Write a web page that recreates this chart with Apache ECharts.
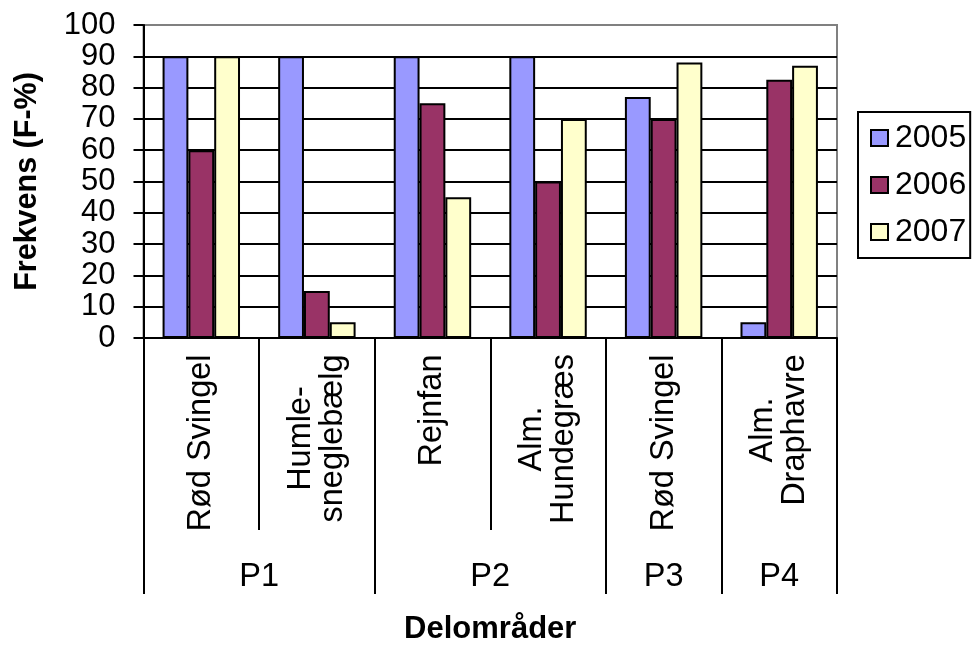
<!DOCTYPE html>
<html>
<head>
<meta charset="utf-8">
<script src="https://cdn.jsdelivr.net/npm/echarts@6/dist/echarts.min.js"></script>
<style>
  html, body { margin: 0; padding: 0; background: #fff; }
  #chart { width: 976px; height: 646px; }
</style>
</head>
<body>
<div id="chart"></div>
<script>
// Species per sub-area (two-level x axis)
const categories = ['Rød Svingel', 'Humle-\nsneglebælg', 'Rejnfan', 'Alm.\nHundegræs', 'Rød Svingel', 'Alm.\nDraphavre'];
const groups = ['P1', 'P2', 'P3', 'P4'];
const groupSizes = [2, 2, 1, 1];

// Frequency (F-%) per year
const years = ['2005', '2006', '2007'];
const values2005 = [90, 90, 90, 90, 77, 5];
const values2006 = [60, 15, 75, 50, 70, 82.5];
const values2007 = [90, 5, 45, 70, 88, 87];

const FONT = '"Liberation Sans", Arial, sans-serif';
const catFontSize = 32.5;
const LINE = 2;

// Group boundaries and centres on a 0..N scale that spans the category band
const boundaries = [0];
groupSizes.forEach(s => boundaries.push(boundaries[boundaries.length - 1] + s));
const centres = groups.map((g, i) => (boundaries[i] + boundaries[i + 1]) / 2);

// Multi-line species labels: lines centred inside a block as wide as the longest line
const ctx = document.createElement('canvas').getContext('2d');
ctx.font = catFontSize + 'px ' + FONT;
const rich = {};
categories.forEach((c, i) => {
  const w = Math.max(...c.split('\n').map(l => ctx.measureText(l).width));
  rich['c' + i] = { width: Math.ceil(w), align: 'center', fontSize: catFontSize, fontFamily: FONT, color: '#000', lineHeight: 32 };
});

const chart = echarts.init(document.getElementById('chart'), null, { renderer: 'canvas' });
const colors = ['#9999FF', '#993366', '#FFFFCC'];
const seriesValues = [values2005, values2006, values2007];

chart.setOption({
  animation: false,
  backgroundColor: '#fff',
  grid: {
    left: 143.5, right: 139, top: 25, bottom: 306,
    show: true, borderColor: '#808080', borderWidth: LINE, backgroundColor: 'transparent'
  },
  legend: {
    orient: 'vertical',
    left: 858, top: 112,
    width: 116,
    padding: [10, 4, 10, 12],
    borderColor: '#000', borderWidth: LINE,
    itemWidth: 17, itemHeight: 16, itemGap: 15,
    icon: 'rect',
    textStyle: { fontSize: 32, fontFamily: FONT, color: '#000', lineHeight: 30, padding: [0, 0, 0, 2] },
    data: years
  },
  xAxis: [
    {
      type: 'category',
      data: categories,
      gridIndex: 0,
      position: 'bottom',
      axisLine: { show: true, lineStyle: { color: '#000', width: LINE } },
      axisTick: { show: true, interval: 0, length: 192, lineStyle: { color: '#000', width: LINE } },
      axisLabel: {
        interval: 0, rotate: 90, margin: 16,
        fontSize: catFontSize, fontFamily: FONT, color: '#000',
        formatter: (value, index) => value.split('\n').map(l => '{c' + index + '|' + l + '}').join('\n'),
        rich: rich
      },
      splitLine: { show: false }
    },
    {
      type: 'value',
      gridIndex: 0,
      position: 'bottom',
      min: 0, max: categories.length,
      axisLine: { show: false },
      axisTick: { show: true, customValues: boundaries, length: 256, lineStyle: { color: '#000', width: LINE } },
      axisLabel: {
        show: true, customValues: centres, margin: 223,
        fontSize: catFontSize, fontFamily: FONT, color: '#000',
        formatter: v => groups[centres.indexOf(v)] || ''
      },
      splitLine: { show: false },
      name: 'Delområder',
      nameLocation: 'middle',
      nameGap: 276,
      nameTextStyle: { fontSize: 31, fontWeight: 'bold', fontFamily: FONT, color: '#000' }
    }
  ],
  yAxis: {
    type: 'value',
    min: 0, max: 100, interval: 10,
    axisLine: { show: true, lineStyle: { color: '#000', width: LINE } },
    axisTick: { show: true, length: 10, lineStyle: { color: '#000', width: LINE } },
    axisLabel: { margin: 28, fontSize: 31, fontFamily: FONT, color: '#000' },
    splitLine: { show: true, showMaxLine: false, lineStyle: { color: '#000', width: LINE } },
    name: 'Frekvens (F-%)',
    nameLocation: 'middle',
    nameGap: 100,
    nameTextStyle: { fontSize: 30.5, fontWeight: 'bold', fontFamily: FONT, color: '#000' }
  },
  series: years.map((y, i) => ({
    name: y,
    type: 'bar',
    xAxisIndex: 0,
    data: seriesValues[i],
    barGap: '0%',
    barCategoryGap: '33%',
    itemStyle: { color: colors[i], borderColor: '#000', borderWidth: LINE }
  }))
});
</script>
</body>
</html>
